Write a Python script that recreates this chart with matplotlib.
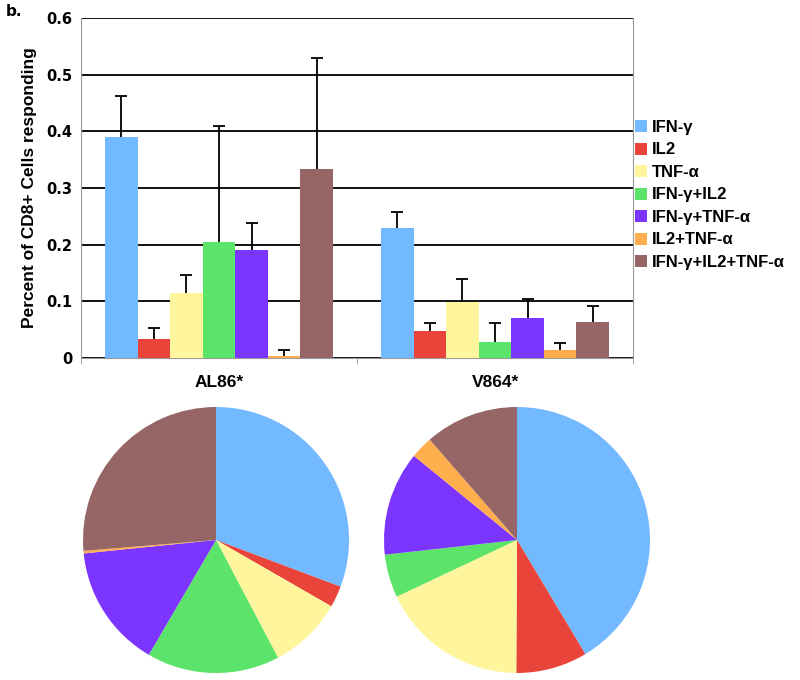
import numpy as np
import matplotlib
matplotlib.use('Agg')
import matplotlib.pyplot as plt
from matplotlib.patches import Patch

groups = ['AL86*', 'V864*']
subsets = ['IFN-γ', 'IL2', 'TNF-α', 'IFN-γ+IL2', 'IFN-γ+TNF-α', 'IL2+TNF-α', 'IFN-γ+IL2+TNF-α']
colors = ['#73B9FF', '#E8443A', '#FFF59C', '#5BE36A', '#7B35FF', '#FFAE4E', '#966565']

# mean percent responding, per subset
al86 = [0.390, 0.033, 0.114, 0.205, 0.190, 0.004, 0.334]
v864 = [0.229, 0.048, 0.099, 0.029, 0.070, 0.015, 0.063]
# top of the error bar
al86_top = [0.463, 0.053, 0.146, 0.410, 0.238, 0.0135, 0.529]
v864_top = [0.258, 0.062, 0.140, 0.062, 0.104, 0.027, 0.092]

fig = plt.figure(figsize=(8, 6.8), dpi=100)
ax = fig.add_axes([81/800, 1 - 358/680, 552/800, 340/680])

w = 0.1178
for i in range(len(subsets)):
    vals = [al86[i], v864[i]]
    tops = [al86_top[i], v864_top[i]]
    x = np.arange(len(groups)) + (i - 3) * w
    ax.bar(x, vals, width=w, color=colors[i], zorder=3)
    # upper error bar only
    ax.vlines(x, vals, tops, color='black', linewidth=1.3, zorder=4)
    ax.plot(x, tops, linestyle='none', marker='_', markersize=8,
            markeredgewidth=1.3, color='black', zorder=4)

ax.set_xlim(-0.5, 1.5)
ax.set_ylim(0, 0.6)
ax.set_yticks(np.arange(0, 0.61, 0.1))
ax.set_yticklabels(['0', '0.1', '0.2', '0.3', '0.4', '0.5', '0.6'],
                   fontfamily='DejaVu Sans', fontweight='bold', fontsize=10.5)
ax.yaxis.grid(True, color='black', linewidth=1.3, zorder=0)
ax.set_axisbelow(True)
ax.set_xticks([0, 1])
ax.set_xticklabels(groups, fontfamily='Liberation Sans', fontweight='bold', fontsize=12.5)
ax.set_xticks([-0.5, 0.5, 1.5], minor=True)
ax.tick_params(axis='x', which='major', length=0, pad=12)
ax.tick_params(axis='x', which='minor', length=4, color='#999999')
ax.tick_params(axis='y', length=0, pad=6)
for s in ['left', 'bottom', 'right']:
    ax.spines[s].set_color('#999999')
ax.spines['top'].set_visible(False)
ax.set_ylabel('Percent of CD8+ Cells responding', fontfamily='Liberation Sans',
              fontweight='bold', fontsize=12.5, labelpad=7)

handles = [Patch(facecolor=c, edgecolor='none') for c in colors]
fig.legend(handles, subsets, loc='upper left', bbox_to_anchor=(635/800, 1 - 120/680),
           frameon=False, borderpad=0, borderaxespad=0, handlelength=0.72, handleheight=0.72,
           handletextpad=0.3, labelspacing=0.45,
           prop={'family': 'Liberation Sans', 'weight': 'bold', 'size': 12})

fig.text(6/800, 1 - 4/680, 'b.', ha='left', va='top', fontfamily='DejaVu Sans',
         fontweight='bold', fontsize=11)

for k, vals in enumerate([al86, v864]):
    left = [83, 384][k]
    pax = fig.add_axes([left/800, 7/680, 266/800, 266/680])
    pax.pie(vals, colors=colors, startangle=90, counterclock=False,
            wedgeprops={'linewidth': 0})
    pax.set_xlim(-1, 1)
    pax.set_ylim(-1, 1)
    pax.set_aspect('equal')

fig.savefig('out.png', dpi=100)
